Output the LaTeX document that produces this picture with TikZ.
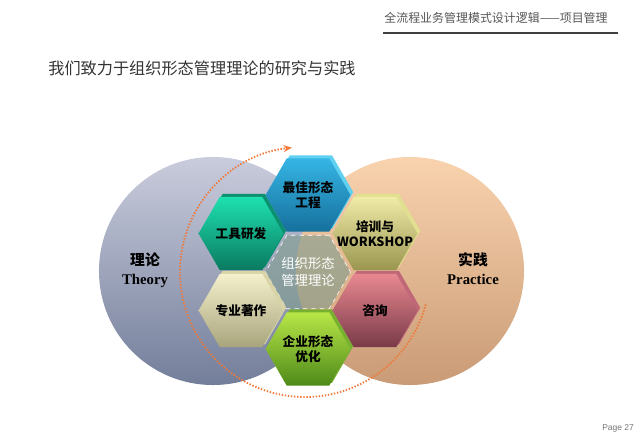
\documentclass[tikz,border=0pt]{standalone}
\usepackage{fontspec}
\setmainfont{Liberation Serif}
\newfontfamily\cjk{Noto Sans CJK SC}
\newfontfamily\pagefont{Liberation Sans}
\usetikzlibrary{arrows.meta,shapes.geometric,shadows}
\usepackage{xcolor}

\definecolor{ringorange}{HTML}{F07838}
\definecolor{theorytop}{HTML}{C9CCDC}
\definecolor{theorybot}{HTML}{737E9A}
\definecolor{practop}{HTML}{F9D3AE}
\definecolor{pracbot}{HTML}{C99B76}
\definecolor{headgray}{HTML}{555555}
\definecolor{coregray}{HTML}{7F9C8E}
\definecolor{optimtop}{HTML}{B8E648}
\definecolor{optimbot}{HTML}{4E8A18}
\definecolor{optimside}{HTML}{78B030}
\definecolor{bookstop}{HTML}{F4F0CC}
\definecolor{booksbot}{HTML}{A8A47C}
\definecolor{booksside}{HTML}{D8D4A8}
\definecolor{consulttop}{HTML}{E88890}
\definecolor{consultbot}{HTML}{7A3A48}
\definecolor{consultside}{HTML}{C06878}
\definecolor{toolstop}{HTML}{1EE0B0}
\definecolor{toolsbot}{HTML}{0A7A60}
\definecolor{toolsside}{HTML}{0C9070}
\definecolor{traintop}{HTML}{F0ECA8}
\definecolor{trainbot}{HTML}{9A9650}
\definecolor{trainside}{HTML}{E0E090}
\definecolor{besttop}{HTML}{35B5E5}
\definecolor{bestbot}{HTML}{16709C}
\definecolor{bestside}{HTML}{5FD0F0}

\begin{document}
\begin{tikzpicture}[
    x=0.025cm, y=0.025cm,
    every node/.style={inner sep=0pt, align=center},
    bigc/.style n args={2}{circle, minimum size=5.7cm, top color=#1, bottom color=#2, draw=none},
    hexa/.style={regular polygon, regular polygon sides=6, minimum size=2.12cm, inner sep=-20pt,
        top color=#1top, bottom color=#1bot, draw=none,
        general shadow={fill=#1side, shadow xshift=2pt, shadow yshift=2pt},
        font=\cjk\bfseries\fontsize{9}{11}\selectfont},
    sidelbl/.style={font=\bfseries\fontsize{10.5}{12.5}\selectfont, text=black}
]

\useasboundingbox (0,0) rectangle (640,443);

% header
\node[font=\cjk\fontsize{8.5}{10}\selectfont, text=headgray] (header) at (496,425) {全流程业务管理模式设计逻辑——项目管理};
\coordinate (rulel) at (383,410);
\coordinate (ruler) at (618,410);
\draw[line width=1.2pt, black!75] (rulel) -- (ruler);

\node[font=\cjk\fontsize{11.5}{13}\selectfont, text=black!80] (title) at (202,375) {我们致力于组织形态管理理论的研究与实践};

% two circles
\node[bigc={theorytop}{theorybot}] (theory) at (213,172) {};
\node[bigc={practop}{pracbot}] (practice) at (410,172) {};

\node[sidelbl] (theorylbl) at (145,173) {{\cjk 理论}\\[1pt]Theory};
\node[sidelbl] (praclbl) at (473,174) {{\cjk 实践}\\[1pt]Practice};

% dotted ring
\coordinate (ring) at (305,171);
\draw[ringorange, line width=1.3pt, dash pattern=on 1pt off 1.2pt, -{Stealth[length=6pt,width=5pt]}]
    ([shift={(-15:125)}]ring) arc[start angle=-15, end angle=-264, radius=125];

% honeycomb
\node[regular polygon, regular polygon sides=6, minimum size=2.12cm, inner sep=-20pt, fill=coregray, fill opacity=0.6,
      draw=white, dashed, text=white, font=\cjk\fontsize{9.5}{12}\selectfont, text opacity=1] (core) at (308,171) {组织形态\\管理理论};

\node[hexa=optim] (optim) at (308,94) {企业形态\\优化};
\node[hexa=books] (books) at (241,132.5) {专业著作};
\node[hexa=consult] (consult) at (375,132.5) {咨询};
\node[hexa=tools] (tools) at (241,209.5) {工具研发};
\node[hexa=train] (train) at (375,209.5) {培训与\\WORKSHOP};
\node[hexa=best] (best) at (308,248) {最佳形态\\工程};

\node[font=\pagefont\fontsize{6}{7}\selectfont, text=black!55] (page) at (618,15) {Page 27};

\end{tikzpicture}
\end{document}
